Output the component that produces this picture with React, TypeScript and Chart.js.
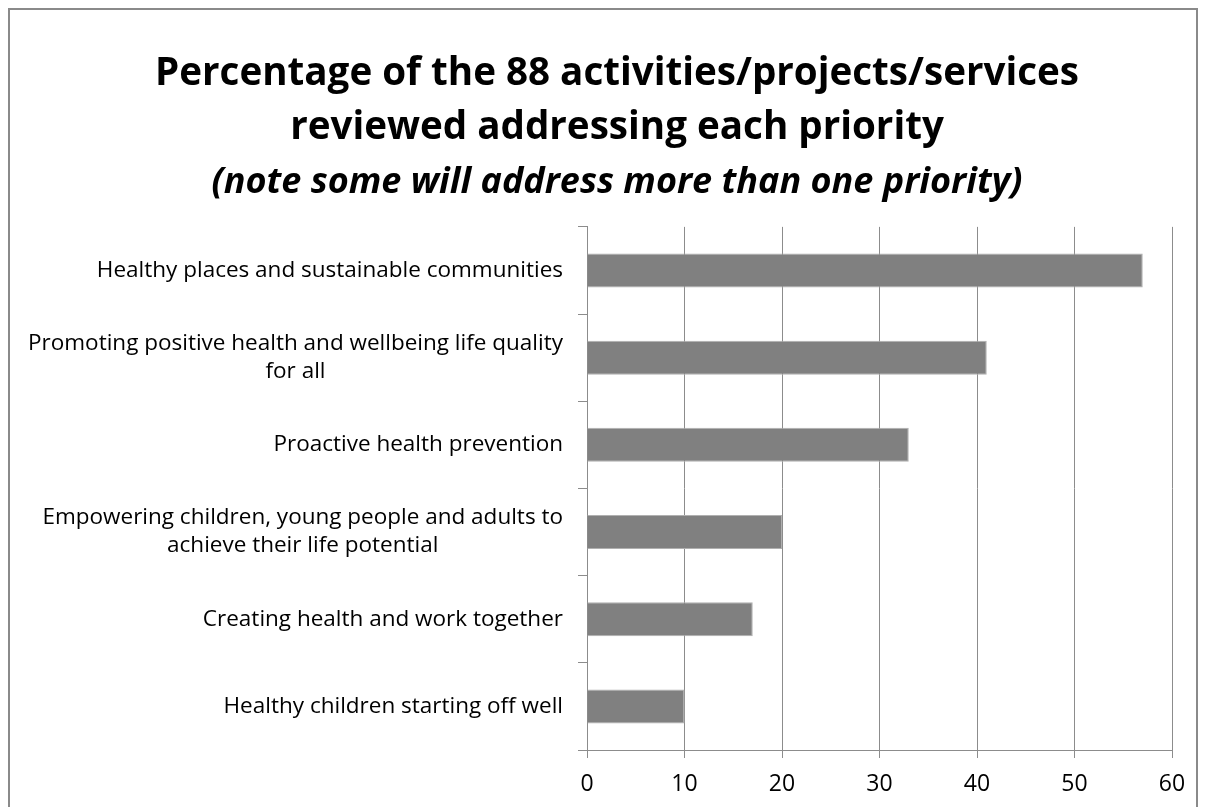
import React, { useEffect, useRef } from "react";
import { Chart, registerables } from "chart.js";

Chart.register(...registerables);

const categories: (string | string[])[] = [
  "Healthy places and sustainable communities",
  ["Promoting positive health and wellbeing life quality", "for all"],
  "Proactive health prevention",
  ["Empowering children, young people and adults to", "achieve their life potential"],
  "Creating health and work together",
  "Healthy children starting off well",
];
const values = [57, 41, 33, 20, 17, 10];
const xMin = 0;
const xMax = 60;
const xStep = 10;
const titleLines = [
  "Percentage of the 88 activities/projects/services",
  "reviewed addressing each priority",
];
const subtitleText = "(note some will address more than one priority)";

const FONT = "'Open Sans', 'DejaVu Sans', sans-serif";
const LABEL_SIZE = 22.5;
const LABEL_LINE = 28;
const Y_TICK_LEN = 9;
const Y_LABEL_PAD = 15;

const titleShiftPlugin = {
  id: "titleShift",
  afterLayout(chart: any) {
    chart.boxes.forEach((b: any) => {
      if (b && b.options && b.options.text !== undefined && b.position === "top" && !b.axis) {
        b.left = 28;
        b.right = chart.width;
        b.width = b.right - b.left;
      }
    });
  },
};

const yLabelPlugin = {
  id: "yLabels",
  afterDraw(chart: any) {
    const ctx = chart.ctx;
    const ys = chart.scales.y;
    ctx.save();
    ctx.font = `${LABEL_SIZE}px ${FONT}`;
    ctx.fillStyle = "#000";
    ctx.textAlign = "center";
    ctx.textBaseline = "middle";
    const xRight = ys.right - Y_TICK_LEN - Y_LABEL_PAD;
    categories.forEach((lab, i) => {
      const lines = Array.isArray(lab) ? lab : [lab];
      const widest = Math.max(...lines.map((l) => ctx.measureText(l).width));
      const cx = xRight - widest / 2;
      const cy = ys.getPixelForValue(i);
      lines.forEach((l, j) => {
        ctx.fillText(l, cx, cy + (j - (lines.length - 1) / 2) * LABEL_LINE);
      });
    });
    ctx.restore();
  },
};

export default function App() {
  const ref = useRef<HTMLCanvasElement | null>(null);
  useEffect(() => {
    if (!ref.current) return;
    const chart = new Chart(ref.current, {
      type: "bar",
      data: {
        labels: categories,
        datasets: [
          {
            data: values,
            backgroundColor: "#808080",
            borderColor: "#b0b0b0",
            borderWidth: 1,
            categoryPercentage: 1,
            barPercentage: 0.39,
          },
        ],
      },
      options: {
        indexAxis: "y",
        responsive: true,
        maintainAspectRatio: false,
        animation: false,
        layout: { padding: { left: 0, right: 24, top: 0, bottom: 0 } },
        plugins: {
          legend: { display: false },
          tooltip: { enabled: false },
          title: {
            display: true,
            text: titleLines,
            color: "#000",
            font: { family: FONT, size: 38.6, weight: "bold", lineHeight: 1.4 },
            padding: { top: 37, bottom: 0 },
          },
          subtitle: {
            display: true,
            text: subtitleText,
            color: "#000",
            font: { family: FONT, size: 36, weight: "bold", style: "italic", lineHeight: 1.3 },
            padding: { top: 4, bottom: 21 },
          },
        },
        scales: {
          x: {
            min: xMin,
            max: xMax,
            ticks: {
              stepSize: xStep,
              color: "#000",
              font: { family: FONT, size: 23 },
              padding: 13,
            },
            grid: {
              color: "#8c8c8c",
              lineWidth: 1,
              tickLength: 8,
              drawTicks: true,
            },
            border: { color: "#8c8c8c", width: 1 },
            afterFit: (scale: any) => {
              scale.height = 86;
              scale.paddingRight = 0;
              scale.paddingLeft = 0;
            },
          },
          y: {
            ticks: { display: false },
            grid: {
              drawOnChartArea: false,
              color: "#8c8c8c",
              tickLength: Y_TICK_LEN,
              offset: true,
            },
            border: { color: "#8c8c8c", width: 1 },
            afterFit: (scale: any) => {
              scale.width = 577;
            },
          },
        },
      },
      plugins: [titleShiftPlugin, yLabelPlugin],
    });
    return () => chart.destroy();
  }, []);

  return (
    <div
      style={{
        width: 1190,
        height: 830,
        border: "2px solid #8a8a8a",
        boxSizing: "border-box",
        background: "#fff",
        position: "relative",
      }}
    >
      <canvas ref={ref} />
    </div>
  );
}
